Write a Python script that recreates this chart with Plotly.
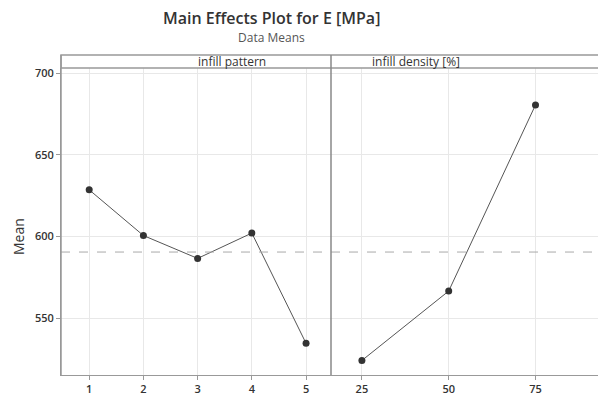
import plotly.graph_objects as go

pattern_levels = [1, 2, 3, 4, 5]
pattern_means = [628.5, 600.5, 586.5, 602.0, 534.5]
density_levels = [25, 50, 75]
density_means = [524.0, 566.5, 680.5]
grand_mean = 590.4
y_ticks = [550, 600, 650, 700]

FONT = "Open Sans"
fig = go.Figure()

line_style = dict(color="#555555", width=1)
marker_style = dict(color="#333333", size=7)

fig.add_trace(go.Scatter(x=pattern_levels, y=pattern_means, mode="lines+markers",
                         line=line_style, marker=marker_style, xaxis="x", yaxis="y",
                         showlegend=False, hoverinfo="x+y"))
fig.add_trace(go.Scatter(x=density_levels, y=density_means, mode="lines+markers",
                         line=line_style, marker=marker_style, xaxis="x2", yaxis="y",
                         showlegend=False, hoverinfo="x+y"))

d1 = 270 / 537
tickfont = dict(family=FONT, size=11, color="#333333", weight=600)
common_x = dict(showgrid=True, gridcolor="#e8e8e8", gridwidth=1, zeroline=False,
                ticks="outside", ticklen=4, tickcolor="#999999", tickfont=tickfont,
                showline=True, linecolor="#999999", linewidth=1)
fig.update_layout(
    width=598, height=397,
    margin=dict(l=61, r=0, t=68, b=22),
    paper_bgcolor="white", plot_bgcolor="white",
    xaxis=dict(domain=[0, d1], range=[0.48, 5.46], tickvals=pattern_levels, **common_x),
    xaxis2=dict(domain=[d1, 1], range=[16.1, 93], tickvals=density_levels, anchor="y", **common_x),
    yaxis=dict(range=[515.1, 703.1], tickvals=y_ticks, showgrid=True, gridcolor="#e8e8e8",
               zeroline=False, ticks="outside", ticklen=4, tickcolor="#999999",
               tickfont=tickfont, showline=True, linecolor="#999999", linewidth=1),
)

# grand mean reference line
fig.add_shape(type="line", xref="paper", yref="y", x0=0, x1=1, y0=grand_mean, y1=grand_mean,
              line=dict(color="#aaaaaa", width=1, dash="dash"))

strip_top = 1 + 13 / 307
# strip box
fig.add_shape(type="rect", xref="paper", yref="paper", x0=0, x1=1.01, y0=1, y1=strip_top,
              line=dict(color="#999999", width=1.5), fillcolor="white", layer="above")
# panel divider
fig.add_shape(type="line", xref="paper", yref="paper", x0=d1, x1=d1, y0=0, y1=strip_top,
              line=dict(color="#888888", width=1.5))
fig.add_shape(type="line", xref="paper", yref="paper", x0=0, x1=0, y0=0, y1=strip_top,
              line=dict(color="#999999", width=1.5))

strip_font = dict(family=FONT, size=12, color="#333333", weight=500)
fig.add_annotation(xref="paper", yref="paper", x=d1 / 2, y=(1 + strip_top) / 2,
                   text="infill pattern", showarrow=False, yanchor="middle", font=strip_font)
fig.add_annotation(xref="paper", yref="paper", x=(d1 + 1) / 2 - 0.005, y=(1 + strip_top) / 2,
                   text="infill density [%]", showarrow=False, yanchor="middle", font=strip_font)

tx = (271 - 61) / 537
fig.add_annotation(xref="paper", yref="paper", x=tx, y=(375 - 18) / 307,
                   text="Main Effects Plot for E [MPa]", showarrow=False, yanchor="middle",
                   font=dict(family=FONT, size=16, color="#333333", weight=600))
fig.add_annotation(xref="paper", yref="paper", x=tx, y=(375 - 38) / 307,
                   text="Data Means", showarrow=False, yanchor="middle",
                   font=dict(family=FONT, size=12, color="#555555"))
fig.add_annotation(xref="paper", yref="paper", x=(18 - 61) / 537, y=(375 - 237) / 307,
                   text="Mean", showarrow=False, textangle=-90, xanchor="center", yanchor="middle",
                   font=dict(family=FONT, size=14, color="#333333"))

fig.write_html("out.html")
